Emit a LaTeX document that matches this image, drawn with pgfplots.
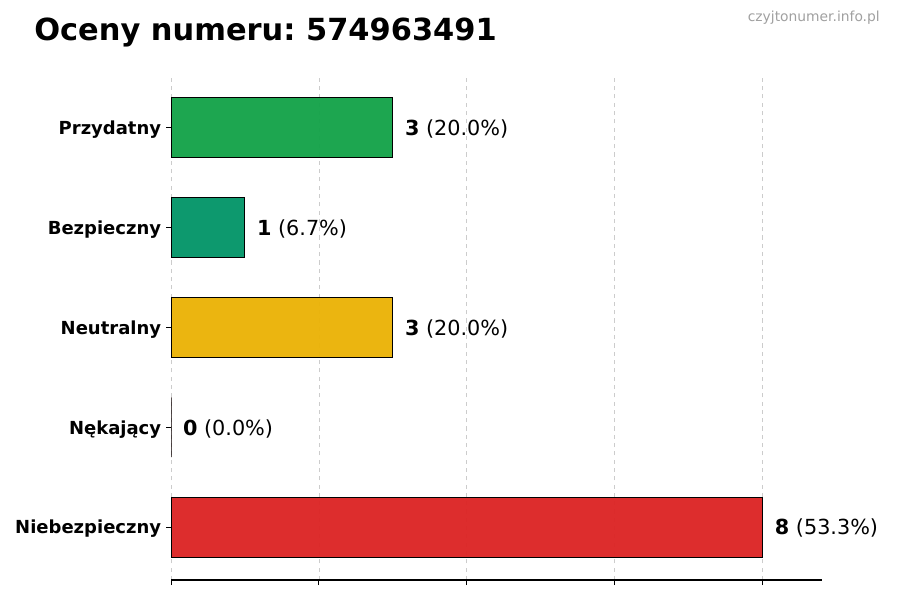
\documentclass[border=0pt]{standalone}
\usepackage{pgfplots}
\pgfplotsset{compat=1.18}
\usepackage{fontspec}
\setmainfont{DejaVu Sans}
\frenchspacing
\definecolor{cgreen}{HTML}{16A34A}
\definecolor{cteal}{HTML}{059669}
\definecolor{cyellow}{HTML}{EAB308}
\definecolor{cred}{HTML}{DC2626}
\definecolor{cgrid}{HTML}{CCCCCC}
\definecolor{cwm}{HTML}{A0A0A0}
\begin{document}
\begin{tikzpicture}
\path[use as bounding box] (0,0) rectangle (9in,6in);
\node[anchor=base west, inner sep=0, font=\fontsize{22}{26}\selectfont\bfseries] at (0.34in,5.59in) {Oceny numeru: 574963491};
\node[anchor=base east, inner sep=0, font=\fontsize{10}{12}\selectfont, text=cwm] at (8.80in,5.78in) {czyjtonumer.info.pl};
\begin{axis}[
  at={(1.71in,0.20in)}, anchor=south west,
  scale only axis, width=6.51in, height=5.05in,
  xmin=0, xmax=8.8, ymin=-0.53, ymax=4.53,
  xbar, bar width=0.6, bar shift=0pt,
  axis x line*=bottom, axis y line*=left,
  y axis line style={draw=none},
  x axis line style={line width=0.8pt},
  tick align=outside, major tick length=0.05in,
  every tick/.style={black, line width=0.7pt},
  xtick={0,2,4,6,8}, xticklabels={},
  ytick={0,1,2,3,4},
  yticklabels={Niebezpieczny,Nękający,Neutralny,Bezpieczny,Przydatny},
  yticklabel style={font=\fontsize{13}{15}\selectfont\bfseries, yshift=-0.02in},
  xmajorgrids, grid style={cgrid, dashed, line width=0.6pt},
  clip=false,
]
\addplot[fill=cred, fill opacity=0.97, draw=black, line width=0.7pt] coordinates {(8,0)};
\addplot[fill=cred, fill opacity=0.97, draw=black, line width=0.5pt] coordinates {(0,1)};
\addplot[fill=cyellow, fill opacity=0.97, draw=black, line width=0.7pt] coordinates {(3,2)};
\addplot[fill=cteal, fill opacity=0.97, draw=black, line width=0.7pt] coordinates {(1,3)};
\addplot[fill=cgreen, fill opacity=0.97, draw=black, line width=0.7pt] coordinates {(3,4)};
\begin{scope}[every node/.style={anchor=west, inner sep=0, yshift=-0.012in, font=\fontsize{15}{18}\selectfont}]
\node at (axis cs:8.16,0) {\textbf{8} (53.3\%)};
\node at (axis cs:0.16,1) {\textbf{0} (0.0\%)};
\node at (axis cs:3.16,2) {\textbf{3} (20.0\%)};
\node at (axis cs:1.16,3) {\textbf{1} (6.7\%)};
\node at (axis cs:3.16,4) {\textbf{3} (20.0\%)};
\end{scope}
\end{axis}
\end{tikzpicture}
\end{document}
